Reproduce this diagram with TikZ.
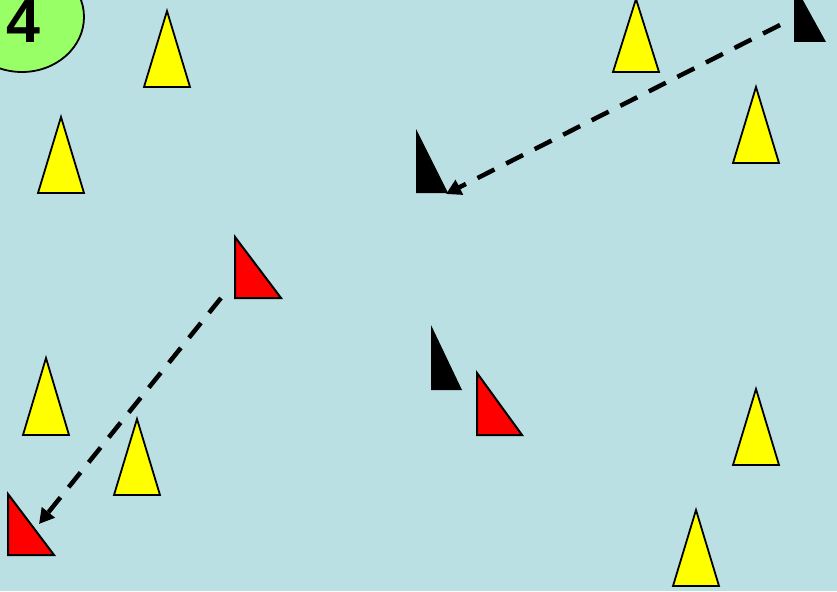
\documentclass[tikz,border=0pt]{standalone}
\usepackage{fontspec}
\setmainfont{Liberation Sans}
\usetikzlibrary{arrows.meta}
\definecolor{bg}{HTML}{BBE0E3}
\definecolor{lgreen}{HTML}{99FF66}
\definecolor{cone}{HTML}{FFFF00}
\definecolor{redmark}{HTML}{FF0000}
\tikzset{
  conestyle/.style={fill=cone,draw=black,line width=1.8pt,line join=miter},
  redstyle/.style={fill=redmark,draw=black,line width=2pt,line join=miter},
  blackstyle/.style={fill=black,draw=none},
  movearrow/.style={draw=black,line width=4.5pt,dash pattern=on 19pt off 13pt,
    -{Triangle[length=15pt,width=16pt]}},
}
\newcommand{\conemark}[3]{% apex x, apex y, base y
  \path[conestyle] (#1,#2) -- (#1+23,#3) -- (#1-23,#3) -- cycle;}
\newcommand{\boatmark}[5]{% style, left x, top y, bottom y, right x
  \path[#1] (#2,#3) -- (#5,#4) -- (#2,#4) -- cycle;}
\begin{document}
\begin{tikzpicture}[x=1pt,y=-1pt]
\fill[bg] (0,0) rectangle (837,591);
\useasboundingbox (0,0) rectangle (837,591);
% number badge
\draw[fill=lgreen,line width=1.8pt] (22,17) ellipse [x radius=62,y radius=55];
\node[anchor=base,inner sep=0pt,font=\fontsize{61}{61}\selectfont\bfseries] (num) at (23.5,43) {4};
% cones
\conemark{167}{11}{87}
\conemark{61}{117}{193}
\conemark{636}{-1}{72}
\conemark{756}{87}{163}
\conemark{46}{358}{435}
\conemark{137}{419}{495}
\conemark{756}{389}{465}
\conemark{696}{510}{586}
% red boats
\boatmark{redstyle}{235}{237}{298}{281}
\boatmark{redstyle}{477}{373}{435}{522}
\boatmark{redstyle}{8}{494}{555}{54}
% black boats
\boatmark{blackstyle}{794}{-16}{42}{826}
\boatmark{blackstyle}{416}{129}{193}{448}
\boatmark{blackstyle}{431}{325}{390}{462}
% arrows
\coordinate (b1s) at (780,25);
\coordinate (b1e) at (446,194);
\coordinate (r1s) at (221,298);
\coordinate (r1e) at (39,524);
\draw[movearrow] (b1s) -- (b1e);
\draw[movearrow] (r1s) -- (r1e);
\end{tikzpicture}
\end{document}
